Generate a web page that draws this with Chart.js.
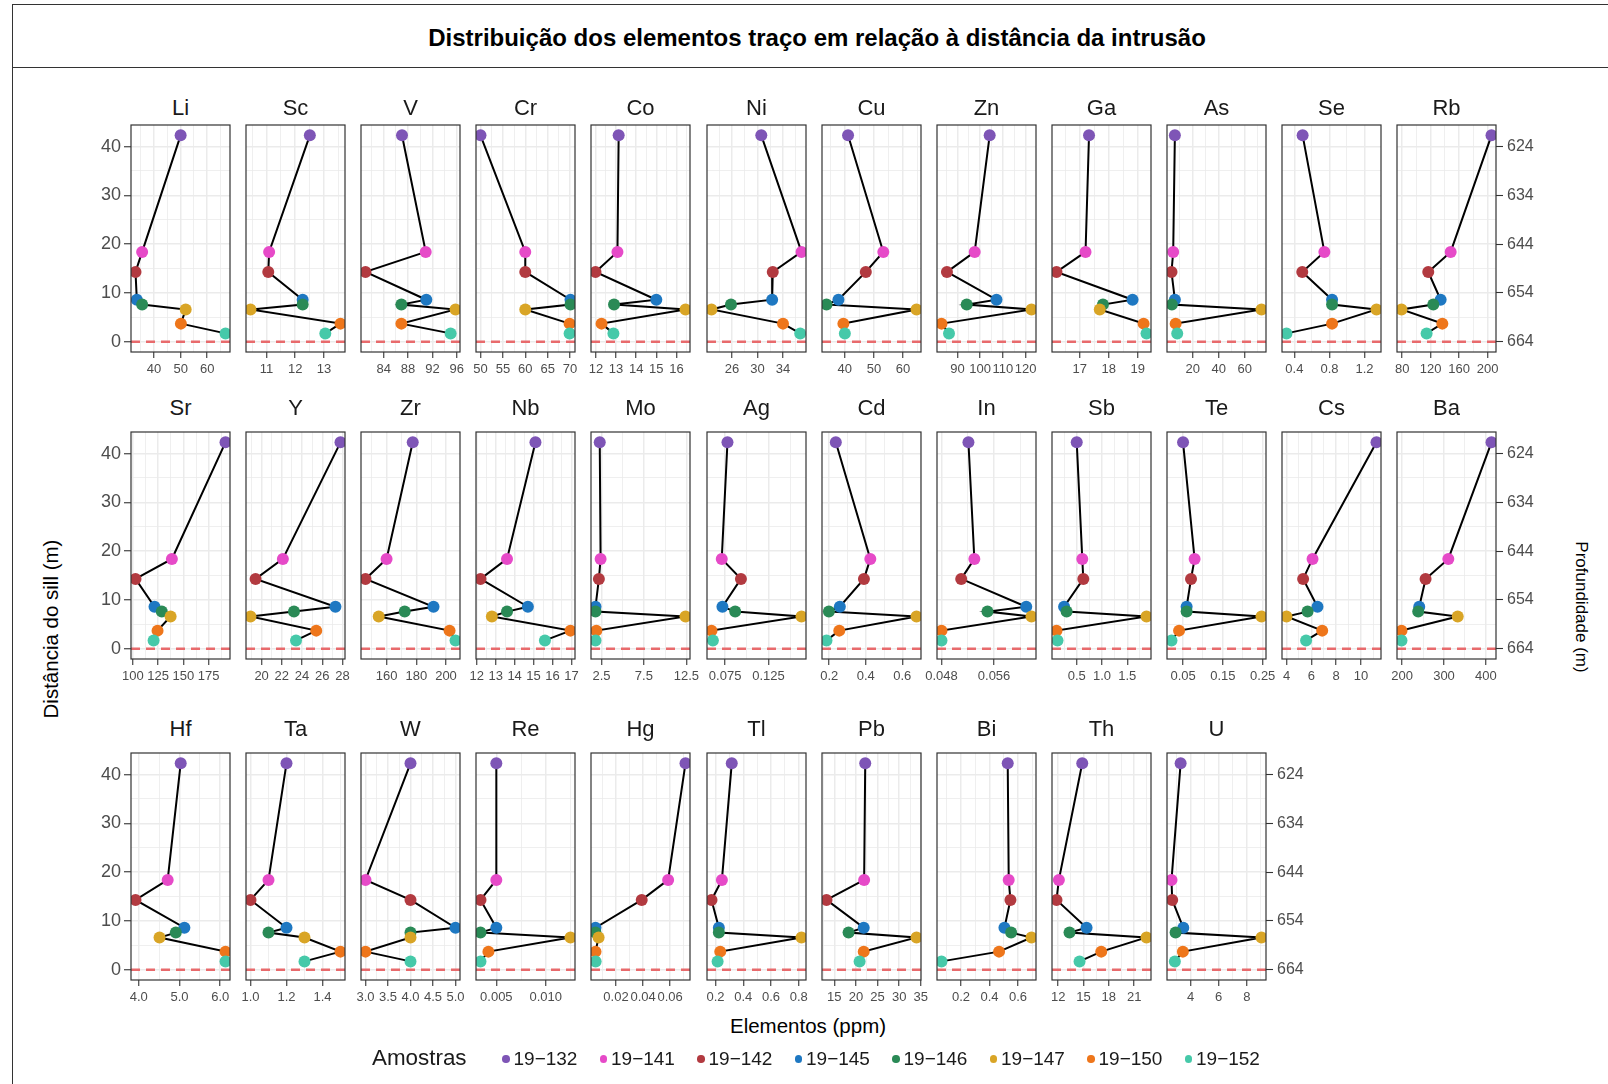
<!DOCTYPE html>
<html lang="pt">
<head>
<meta charset="utf-8">
<title>Distribuição dos elementos traço</title>
<script src="https://cdn.jsdelivr.net/npm/chart.js@4.4.1/dist/chart.umd.min.js"></script>
<style>
  html, body { margin: 0; padding: 0; background: #fff; }
  #page { position: relative; width: 1608px; height: 1084px; overflow: hidden; background: #fff;
          font-family: "Liberation Sans", Arial, Helvetica, sans-serif; color: #1a1a1a; }
  #frame { position: absolute; left: 12px; top: 4px; width: 1650px; height: 1130px;
           border: 1.5px solid #333; box-sizing: border-box; }
  #titleRule { position: absolute; left: 12px; top: 67px; width: 1650px; border-top: 1.5px solid #333; }
  #title { position: absolute; left: 0; top: 23px; width: 1634px; text-align: center;
           font-weight: bold; font-size: 24px; line-height: 30px; color: #000; }
  .strip { position: absolute; width: 140px; text-align: center; font-size: 22px; line-height: 22px; color: #1a1a1a; }
  canvas { position: absolute; }
  .axis-title { position: absolute; width: 320px; text-align: center; line-height: 24px;
                white-space: nowrap; color: #000; }
  .legend-title { position: absolute; font-size: 22.4px; line-height: 26px; color: #1a1a1a; }
  .legend-dot { position: absolute; width: 7.6px; height: 7.6px; border-radius: 50%; }
  .legend-label { position: absolute; font-size: 19px; line-height: 22px; color: #1a1a1a; white-space: nowrap; }
</style>
</head>
<body>
<div id="page">
  <div id="frame"></div>
  <div id="titleRule"></div>
  <div id="title">Distribuição dos elementos traço em relação à distância da intrusão</div>
  <div class="axis-title" style="left:-109px; top:617px; font-size:20.5px; transform: rotate(-90deg);">Distância do sill (m)</div>
  <div class="axis-title" style="left:1421px; top:595px; font-size:17px; transform: rotate(90deg);">Profundidade (m)</div>
  <div class="axis-title" style="left:648px; top:1014px; font-size:20.5px;">Elementos (ppm)</div>
</div>
<script>
// Samples, ordered from the farthest to the closest to the intrusion
const samples = ['19−132', '19−141', '19−142', '19−145', '19−146', '19−147', '19−150', '19−152'];
const sampleColors = ['#7E55B6', '#E64AC8', '#B23A40', '#1E78C2', '#2A8A56', '#D9A526', '#EE761B', '#46C9A9'];
const distances = [42.3, 18.4, 14.3, 8.6, 7.6, 6.6, 3.7, 1.7];   // distance to the sill (m)
const distanceLabels = ['0', '10', '20', '30', '40'];
const depthLabels = ['624', '634', '644', '654', '664'];
const contactDepth = 664;   // depth (m) of the sill contact

// Concentrations (ppm), one value per sample
const Li = [50.0, 35.5, 33.0, 33.5, 35.5, 51.9, 50.1, 66.9];
const Sc = [12.51, 11.09, 11.06, 12.26, 12.26, 10.44, 13.58, 13.05];
const V  = [87.0, 90.9, 81.0, 91.0, 86.9, 95.8, 86.9, 95.0];
const Cr = [50.0, 60.0, 60.0, 70.1, 70.1, 60.0, 69.9, 69.9];
const Co = [13.13, 13.07, 11.98, 15.0, 12.9, 16.45, 12.28, 12.87];
const Ni = [30.6, 36.9, 32.4, 32.3, 25.85, 22.8, 34.0, 36.7];
const Cu = [41.1, 53.2, 47.2, 37.8, 33.7, 64.6, 39.5, 40.0];
const Zn = [104.2, 97.6, 85.4, 107.2, 94.1, 122.6, 83.0, 86.3];
const Ga = [17.32, 17.2, 16.2, 18.82, 17.8, 17.69, 19.2, 19.3];
const As = [6.2, 4.9, 3.6, 6.2, 3.9, 72.9, 6.8, 8.0];
const Se = [0.494, 0.742, 0.49, 0.83, 0.83, 1.337, 0.83, 0.31];
const Rb = [205.6, 148.2, 116.7, 134.1, 123.8, 79.1, 136.5, 114.4];
const Sr = [191.6, 138.6, 102.6, 121.4, 128.6, 137.3, 124.4, 120.5];
const Y  = [27.8, 22.1, 19.4, 27.3, 23.2, 18.9, 25.4, 23.4];
const Zr = [177.6, 160.0, 145.8, 191.6, 172.2, 154.7, 202.4, 206.4];
const Nb = [15.1, 13.6, 12.2, 14.7, 13.6, 12.8, 16.95, 15.6];
const Mo = [2.3, 2.4, 2.2, 1.8, 1.8, 12.4, 1.9, 1.8];
const Ag = [0.0777, 0.0711, 0.0932, 0.0719, 0.0866, 0.163, 0.0593, 0.0609];
const Cd = [0.236, 0.425, 0.39, 0.258, 0.198, 0.678, 0.255, 0.185];
const In = [0.0521, 0.0530, 0.0510, 0.0609, 0.0550, 0.0617, 0.0480, 0.0480];
const Sb = [0.5, 0.61, 0.63, 0.25, 0.3, 1.88, 0.1, 0.12];
const Te = [0.05, 0.079, 0.07, 0.059, 0.059, 0.247, 0.04, 0.021];
const Cs = [11.26, 6.1, 5.34, 6.5, 5.7, 4.0, 6.88, 5.58];
const Ba = [413.6, 310.4, 256.0, 240.8, 238.4, 332.8, 198.4, 198.4];
const Hf = [5.03, 4.71, 3.92, 5.12, 4.91, 4.51, 6.13, 6.13];
const Ta = [1.2, 1.1, 1.0, 1.2, 1.1, 1.3, 1.5, 1.3];
const W  = [4.0, 3.0, 4.0, 5.0, 4.0, 4.0, 3.0, 4.0];
const Re = [0.005, 0.005, 0.0034, 0.005, 0.0034, 0.0125, 0.0042, 0.0034];
const Hg = [0.0713, 0.0585, 0.039, 0.0049, 0.0049, 0.0072, 0.0049, 0.005];
const Tl = [0.317, 0.246, 0.171, 0.224, 0.224, 0.82, 0.234, 0.215];
const Pb = [22.15, 21.9, 13.2, 21.8, 18.3, 34.0, 21.8, 20.85];
const Bi = [0.528, 0.535, 0.547, 0.505, 0.552, 0.695, 0.467, 0.063];
const Th = [14.85, 12.08, 11.8, 15.36, 13.34, 22.46, 17.1, 14.53];
const U  = [3.29, 2.64, 2.69, 3.48, 2.93, 9.05, 3.45, 2.88];

// Concentration axis labels for each element
const LiTicks = ['40', '50', '60'];
const ScTicks = ['11', '12', '13'];
const VTicks  = ['84', '88', '92', '96'];
const CrTicks = ['50', '55', '60', '65', '70'];
const CoTicks = ['12', '13', '14', '15', '16'];
const NiTicks = ['26', '30', '34'];
const CuTicks = ['40', '50', '60'];
const ZnTicks = ['90', '100', '110', '120'];
const GaTicks = ['17', '18', '19'];
const AsTicks = ['20', '40', '60'];
const SeTicks = ['0.4', '0.8', '1.2'];
const RbTicks = ['80', '120', '160', '200'];
const SrTicks = ['100', '125', '150', '175'];
const YTicks  = ['20', '22', '24', '26', '28'];
const ZrTicks = ['160', '180', '200'];
const NbTicks = ['12', '13', '14', '15', '16', '17'];
const MoTicks = ['2.5', '7.5', '12.5'];
const AgTicks = ['0.075', '0.125'];
const CdTicks = ['0.2', '0.4', '0.6'];
const InTicks = ['0.048', '0.056'];
const SbTicks = ['0.5', '1.0', '1.5'];
const TeTicks = ['0.05', '0.15', '0.25'];
const CsTicks = ['4', '6', '8', '10'];
const BaTicks = ['200', '300', '400'];
const HfTicks = ['4.0', '5.0', '6.0'];
const TaTicks = ['1.0', '1.2', '1.4'];
const WTicks  = ['3.0', '3.5', '4.0', '4.5', '5.0'];
const ReTicks = ['0.005', '0.010'];
const HgTicks = ['0.02', '0.04', '0.06'];
const TlTicks = ['0.2', '0.4', '0.6', '0.8'];
const PbTicks = ['15', '20', '25', '30', '35'];
const BiTicks = ['0.2', '0.4', '0.6'];
const ThTicks = ['12', '15', '18', '21'];
const UTicks  = ['4', '6', '8'];

const panelRows = [
  [['Li', Li, LiTicks], ['Sc', Sc, ScTicks], ['V', V, VTicks], ['Cr', Cr, CrTicks], ['Co', Co, CoTicks],
   ['Ni', Ni, NiTicks], ['Cu', Cu, CuTicks], ['Zn', Zn, ZnTicks], ['Ga', Ga, GaTicks], ['As', As, AsTicks],
   ['Se', Se, SeTicks], ['Rb', Rb, RbTicks]],
  [['Sr', Sr, SrTicks], ['Y', Y, YTicks], ['Zr', Zr, ZrTicks], ['Nb', Nb, NbTicks], ['Mo', Mo, MoTicks],
   ['Ag', Ag, AgTicks], ['Cd', Cd, CdTicks], ['In', In, InTicks], ['Sb', Sb, SbTicks], ['Te', Te, TeTicks],
   ['Cs', Cs, CsTicks], ['Ba', Ba, BaTicks]],
  [['Hf', Hf, HfTicks], ['Ta', Ta, TaTicks], ['W', W, WTicks], ['Re', Re, ReTicks], ['Hg', Hg, HgTicks],
   ['Tl', Tl, TlTicks], ['Pb', Pb, PbTicks], ['Bi', Bi, BiTicks], ['Th', Th, ThTicks], ['U', U, UTicks]]
];

// ---- layout of the facet grid ----
const FONT = '"Liberation Sans", Arial, Helvetica, sans-serif';
Chart.defaults.font.family = FONT;
const page = document.getElementById('page');
const COL0 = 131, COL_STEP = 115.12, PW = 99, PH = 227;
const ROW_TOP = [125, 432, 753];
const STRIP_BASE = [115.7, 415.7, 736.7];
const PAD_L = 60, PAD_R = 70, PAD_T = 12, PAD_B = 40;
const GRID = '#EBEBEB', INK = '#333333', TICK_TEXT = '#4D4D4D';

// Scale limits padded by 5% of the data range on each side
function paddedRange(vals) {
  const lo = Math.min(...vals), hi = Math.max(...vals), p = (hi - lo) * 0.05;
  return [lo - p, hi + p];
}

// Labelled breaks plus unlabelled minor breaks halfway between them
function tickSet(labels, min, max) {
  const majors = labels.map(t => ({ value: parseFloat(t), text: t, minor: false }));
  const step = majors[1].value - majors[0].value;
  const ext = [majors[0].value - step, ...majors.map(m => m.value), majors[majors.length - 1].value + step];
  const minors = [];
  for (let i = 0; i < ext.length - 1; i++) {
    const v = (ext[i] + ext[i + 1]) / 2;
    if (v > min && v < max) minors.push({ value: v, text: '', minor: true });
  }
  return majors.filter(m => m.value >= min && m.value <= max).concat(minors)
               .sort((a, b) => a.value - b.value);
}

const [yMin, yMax] = paddedRange([0, ...distances]);

const isMinor = ctx => !!(ctx.tick && ctx.tick.minor);
const noPadding = s => { s.paddingLeft = 0; s.paddingRight = 0; s.paddingTop = 0; s.paddingBottom = 0; };

const panelDecor = {
  id: 'panelDecor',
  beforeDatasetsDraw(chart) {
    // dashed reference line at the sill contact (distance 0)
    const { ctx, chartArea: a, scales } = chart;
    const py = scales.y.getPixelForValue(0);
    ctx.save();
    ctx.beginPath(); ctx.rect(a.left, a.top, a.width, a.height); ctx.clip();
    ctx.setLineDash([9, 6]);
    ctx.strokeStyle = '#E86A6C';
    ctx.lineWidth = 2.4;
    ctx.beginPath(); ctx.moveTo(a.left, py); ctx.lineTo(a.right, py); ctx.stroke();
    ctx.restore();
  },
  afterDatasetsDraw(chart) {
    const { ctx, chartArea: a } = chart;
    ctx.save();
    ctx.strokeStyle = INK; ctx.lineWidth = 1.2;
    ctx.strokeRect(a.left, a.top, a.width, a.height);
    ctx.restore();
  }
};

function drawPanel(name, values, labels, row, col, first, last) {
  const left = Math.round(COL0 + col * COL_STEP);
  const top = ROW_TOP[row];
  const cw = PAD_L + PW + PAD_R, ch = PAD_T + PH + PAD_B;

  const strip = document.createElement('div');
  strip.className = 'strip';
  strip.textContent = name;
  strip.style.left = (left + PW / 2 - 70) + 'px';
  strip.style.top = (STRIP_BASE[row] - 18.6) + 'px';
  page.appendChild(strip);

  const cv = document.createElement('canvas');
  cv.width = cw; cv.height = ch;
  cv.style.left = (left - PAD_L) + 'px';
  cv.style.top = (top - PAD_T) + 'px';
  cv.style.width = cw + 'px'; cv.style.height = ch + 'px';
  page.appendChild(cv);

  const [xMin, xMax] = paddedRange(values);
  const xTicks = tickSet(labels, xMin, xMax);
  const yTicks = tickSet(distanceLabels, yMin, yMax);
  const depthTicks = depthLabels.map(t => ({ value: contactDepth - parseFloat(t), text: t, minor: false }));

  const scales = {
    x: {
      type: 'linear', position: 'bottom', min: xMin, max: xMax, bounds: 'data',
      afterBuildTicks: s => { s.ticks = xTicks.map(t => ({ ...t })); },
      afterFit: s => { s.height = PAD_B; noPadding(s); },
      border: { display: false },
      grid: { color: GRID, lineWidth: c => isMinor(c) ? 0.8 : 1.5, drawTicks: true, tickLength: 6,
              tickColor: c => isMinor(c) ? 'rgba(0,0,0,0)' : INK, tickWidth: 1.1 },
      ticks: { autoSkip: false, maxRotation: 0, minRotation: 0, padding: 4, color: TICK_TEXT,
               font: { size: 13 }, callback: (v, i, t) => t[i].text }
    },
    y: {
      type: 'linear', position: 'left', min: yMin, max: yMax, bounds: 'data',
      afterBuildTicks: s => { s.ticks = yTicks.map(t => ({ ...t })); },
      afterFit: s => { s.width = PAD_L; noPadding(s); },
      border: { display: false },
      grid: { color: GRID, lineWidth: c => isMinor(c) ? 0.8 : 1.5, drawTicks: first, tickLength: 7,
              tickColor: c => isMinor(c) ? 'rgba(0,0,0,0)' : INK, tickWidth: 1.1 },
      ticks: { display: first, autoSkip: false, padding: 3, color: TICK_TEXT, font: { size: 18 },
               callback: (v, i, t) => t[i].text }
    }
  };
  if (last) {
    scales.depth = {
      type: 'linear', position: 'right', min: yMin, max: yMax, bounds: 'data',
      afterBuildTicks: s => { s.ticks = depthTicks.map(t => ({ ...t })); },
      afterFit: s => { s.width = PAD_R; noPadding(s); },
      border: { display: false },
      grid: { display: true, drawOnChartArea: false, drawTicks: true, tickLength: 7, color: INK, tickWidth: 1.1 },
      ticks: { autoSkip: false, padding: 4, color: TICK_TEXT, font: { size: 16 },
               callback: (v, i, t) => t[i].text }
    };
  }

  new Chart(cv, {
    type: 'scatter',
    data: {
      datasets: [{
        label: name,
        data: values.map((v, i) => ({ x: v, y: distances[i] })),
        showLine: true, tension: 0, clip: 0,
        borderColor: '#000', borderWidth: 2,
        pointRadius: 6, pointHoverRadius: 6, pointBorderWidth: 0,
        pointBackgroundColor: sampleColors, pointBorderColor: sampleColors
      }]
    },
    options: {
      responsive: false, animation: false, devicePixelRatio: 1, events: [],
      layout: { padding: { left: 0, top: PAD_T, bottom: 0, right: last ? 0 : PAD_R } },
      plugins: { legend: { display: false }, tooltip: { enabled: false }, title: { display: false } },
      scales
    },
    plugins: [panelDecor]
  });
}

panelRows.forEach((row, r) => {
  row.forEach(([name, values, labels], c) => {
    drawPanel(name, values, labels, r, c, c === 0, c === row.length - 1);
  });
});

// ---- legend ----
const legTitle = document.createElement('div');
legTitle.className = 'legend-title';
legTitle.textContent = 'Amostras';
legTitle.style.left = '372px'; legTitle.style.top = '1045px';
page.appendChild(legTitle);
samples.forEach((s, i) => {
  const cx = 506 + i * 97.5, cy = 1059;
  const dot = document.createElement('div');
  dot.className = 'legend-dot';
  dot.style.background = sampleColors[i];
  dot.style.left = (cx - 3.8) + 'px'; dot.style.top = (cy - 3.8) + 'px';
  page.appendChild(dot);
  const lab = document.createElement('div');
  lab.className = 'legend-label';
  lab.textContent = s;
  lab.style.left = (cx + 7.5) + 'px'; lab.style.top = (cy - 11) + 'px';
  page.appendChild(lab);
});
</script>
</body>
</html>
